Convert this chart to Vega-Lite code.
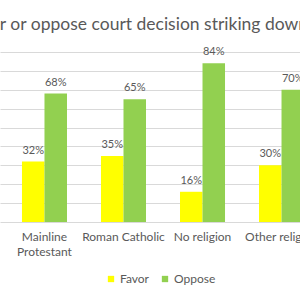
{
  "$schema": "https://vega.github.io/schema/vega-lite/v6.json",
  "width": 300,
  "height": 170,
  "autosize": {"type": "none"},
  "padding": {"top": 52, "left": 0, "right": 0, "bottom": 78},
  "background": "white",
  "title": {"text": "Favor or oppose court decision striking down", "anchor": "start", "frame": "group", "dx": -36, "dy": 5, "fontSize": 17.5, "font": "Lato", "fontWeight": "normal", "color": "#595959", "offset": 4, "baseline": "alphabetic"},
  "data": {"values": [
    {"religion": "Mainline Protestant", "response": "Favor", "value": 0.32},
    {"religion": "Mainline Protestant", "response": "Oppose", "value": 0.68},
    {"religion": "Roman Catholic", "response": "Favor", "value": 0.35},
    {"religion": "Roman Catholic", "response": "Oppose", "value": 0.65},
    {"religion": "No religion", "response": "Favor", "value": 0.16},
    {"religion": "No religion", "response": "Oppose", "value": 0.84},
    {"religion": "Other religion", "response": "Favor", "value": 0.30},
    {"religion": "Other religion", "response": "Oppose", "value": 0.70}
  ]},
  "encoding": {
    "x": {"field": "religion", "type": "nominal", "sort": ["Mainline Protestant", "Roman Catholic", "No religion", "Other religion"],
      "scale": {"range": [0, 326], "paddingInner": 0, "paddingOuter": 0.063},
      "axis": {"title": null, "ticks": false, "domainColor": "#D9D9D9", "labelFont": "Lato", "labelFontSize": 12, "labelColor": "#595959", "labelPadding": 9, "labelAngle": 0, "labelLineHeight": 15, "labelBound": false, "labelOverlap": false, "labelLimit": 0,
        "labelExpr": "datum.value == 'Mainline Protestant' ? ['Mainline', 'Protestant'] : datum.value"}},
    "xOffset": {"field": "response", "type": "nominal", "sort": ["Favor", "Oppose"], "scale": {"paddingInner": 0, "paddingOuter": 0.755}},
    "y": {"field": "value", "type": "quantitative", "scale": {"domain": [0, 0.9]},
      "axis": {"title": null, "domain": false, "ticks": false, "labels": false, "grid": true, "gridColor": "#D9D9D9", "values": [0.1, 0.2, 0.3, 0.4, 0.5, 0.6, 0.7, 0.8, 0.9]}}
  },
  "layer": [
    {"mark": {"type": "bar", "clip": true},
     "encoding": {"color": {"field": "response", "type": "nominal", "scale": {"domain": ["Favor", "Oppose"], "range": ["#FFFF00", "#92D050"]},
       "legend": {"orient": "none", "legendX": 105, "legendY": 221, "direction": "horizontal", "title": null, "symbolType": "square", "symbolSize": 40, "symbolStrokeWidth": 0, "labelFontSize": 12, "labelFont": "Lato", "labelColor": "#595959", "columnPadding": 10, "labelOffset": 3}}}},
    {"mark": {"type": "text", "baseline": "bottom", "dy": -6, "font": "Lato", "fontSize": 11, "color": "#595959"},
     "encoding": {"text": {"field": "value", "type": "quantitative", "format": ".0%"}}}
  ],
  "config": {"view": {"stroke": null}}
}
